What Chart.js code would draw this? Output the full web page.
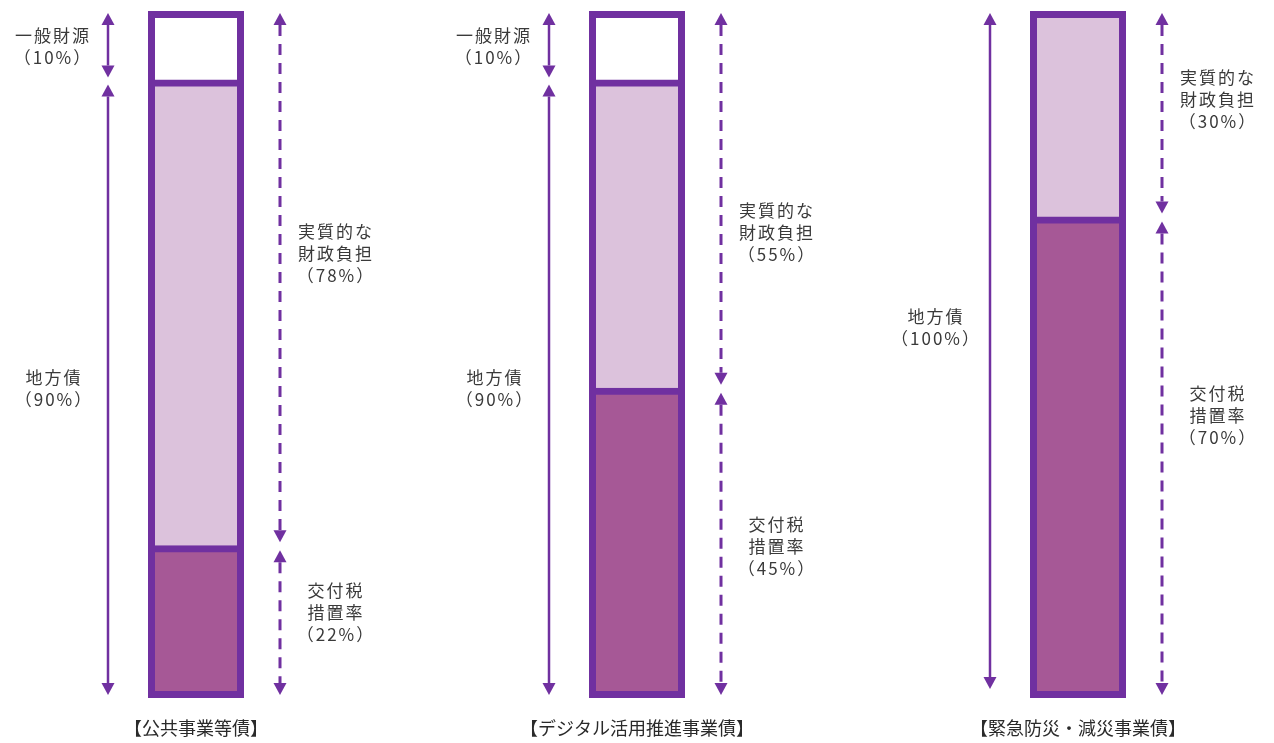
<!DOCTYPE html>
<html lang="ja">
<head>
<meta charset="utf-8">
<title>地方債の財源構成</title>
<script src="https://cdn.jsdelivr.net/npm/chart.js@4"></script>
<style>
  html, body { margin: 0; padding: 0; background: #fff; }
  #wrap { width: 1274px; height: 743px; position: relative; }
</style>
</head>
<body>
<div id="wrap"><canvas id="fundChart"></canvas></div>
<script>
// Data (percent of project cost)
const categories = ['【公共事業等債】', '【デジタル活用推進事業債】', '【緊急防災・減災事業債】'];
const generalFunds = [10, 10, 0];   // 一般財源
const netBurden = [68, 45, 30];     // 実質的な財政負担 (bond part only)
const grantRate = [22, 45, 70];     // 交付税措置率

const purple = '#7030A0';
const textColor = '#3a3a3a';
const noteFont = '17px "Noto Sans CJK JP", "Noto Sans", sans-serif';

// Small vertical nudges for the side notes, so they sit where the original has them
const noteShift = {
    bond: [0, 0, -27],
    burden: [-26, 32, -15],
    grant: [-9, 4, -42]
};

// Double-headed arrow, solid or dashed
function drawArrow(ctx, x, y1, y2, dashed) {
    const head = 12;
    const half = 6.5;
    ctx.save();
    ctx.strokeStyle = purple;
    ctx.fillStyle = purple;
    ctx.lineWidth = dashed ? 3 : 2.5;
    ctx.setLineDash(dashed ? [11, 8] : []);
    ctx.beginPath();
    ctx.moveTo(x, y1 + head);
    ctx.lineTo(x, y2 - head);
    ctx.stroke();
    ctx.setLineDash([]);
    ctx.beginPath();
    ctx.moveTo(x, y1);
    ctx.lineTo(x - half, y1 + head);
    ctx.lineTo(x + half, y1 + head);
    ctx.closePath();
    ctx.fill();
    ctx.beginPath();
    ctx.moveTo(x, y2);
    ctx.lineTo(x - half, y2 - head);
    ctx.lineTo(x + half, y2 - head);
    ctx.closePath();
    ctx.fill();
    ctx.restore();
}

// Centered multi-line note
function drawNote(ctx, x, yMid, lines) {
    const lineH = 22;
    ctx.save();
    ctx.font = noteFont;
    ctx.fillStyle = textColor;
    ctx.textAlign = 'center';
    ctx.textBaseline = 'middle';
    if ('letterSpacing' in ctx) ctx.letterSpacing = '2px';
    const start = yMid - (lines.length - 1) * lineH / 2;
    lines.forEach((line, k) => ctx.fillText(line, x, start + k * lineH));
    ctx.restore();
}

const notesPlugin = {
    id: 'notes',
    afterDatasetsDraw(chart) {
        const ctx = chart.ctx;
        const xs = chart.scales.x;
        const ys = chart.scales.y;
        const top = ys.getPixelForValue(100);
        const bottom = ys.getPixelForValue(0);

        categories.forEach((cat, i) => {
            const cx = xs.getPixelForValue(i);
            const leftX = cx - 88;
            const rightX = cx + 84;
            const bondShare = 100 - generalFunds[i];
            const burdenShare = 100 - grantRate[i];

            // left side: 一般財源 / 地方債
            if (generalFunds[i] > 0) {
                const split = ys.getPixelForValue(bondShare);
                drawArrow(ctx, leftX, top + 1, split - 3, false);
                drawArrow(ctx, leftX, split + 4, bottom - 2, false);
                drawNote(ctx, cx - 143, (top + split) / 2, ['一般財源', '（' + generalFunds[i] + '%）']);
                drawNote(ctx, cx - 142, (split + bottom) / 2 + noteShift.bond[i], ['地方債', '（' + bondShare + '%）']);
            } else {
                drawArrow(ctx, leftX, top + 1, bottom - 8, false);
                drawNote(ctx, cx - 142, (top + bottom) / 2 + noteShift.bond[i], ['地方債', '（' + bondShare + '%）']);
            }

            // right side: 実質的な財政負担 / 交付税措置率
            const split2 = ys.getPixelForValue(grantRate[i]);
            drawArrow(ctx, rightX, top + 1, split2 - 4, true);
            drawArrow(ctx, rightX, split2 + 4, bottom - 2, true);
            drawNote(ctx, cx + 140, (top + split2) / 2 + noteShift.burden[i], ['実質的な', '財政負担', '（' + burdenShare + '%）']);
            drawNote(ctx, cx + 140, (split2 + bottom) / 2 + noteShift.grant[i], ['交付税', '措置率', '（' + grantRate[i] + '%）']);
        });
    }
};

const ctx = document.getElementById('fundChart').getContext('2d');

new Chart(ctx, {
    type: 'bar',
    data: {
        labels: categories,
        datasets: [
            {
                label: '交付税措置率',
                data: grantRate,
                backgroundColor: '#A65896',
                borderColor: purple,
                borderSkipped: false
            },
            {
                label: '実質的な財政負担',
                data: netBurden,
                backgroundColor: '#DCC2DC',
                borderColor: purple,
                borderSkipped: 'start'
            },
            {
                label: '一般財源',
                // a zero share gets no box at all
                data: generalFunds.map(v => v || null),
                backgroundColor: '#FFFFFF',
                borderColor: purple,
                borderSkipped: 'start'
            }
        ]
    },
    options: {
        responsive: true,
        maintainAspectRatio: false,
        animation: false,
        layout: {
            padding: { top: 12, bottom: 0, left: 196, right: 196 }
        },
        datasets: {
            bar: {
                barThickness: 94,
                borderWidth: 7,
                // fill overlaps the frame by 1px so no white seams show
                inflateAmount: 1,
                clip: false
            }
        },
        scales: {
            x: {
                stacked: true,
                offset: false,
                grid: { display: false, drawTicks: false },
                border: { display: false },
                ticks: {
                    autoSkip: false,
                    maxRotation: 0,
                    padding: 20,
                    color: '#2a2a2a',
                    font: { size: 18, family: '"Noto Sans CJK JP", "Noto Sans", sans-serif' }
                },
                afterFit: (scale) => { scale.height = 46; }
            },
            y: {
                stacked: true,
                display: false,
                min: 0,
                max: 100
            }
        },
        plugins: {
            legend: { display: false },
            tooltip: { enabled: false }
        }
    },
    plugins: [notesPlugin]
});
</script>
</body>
</html>
